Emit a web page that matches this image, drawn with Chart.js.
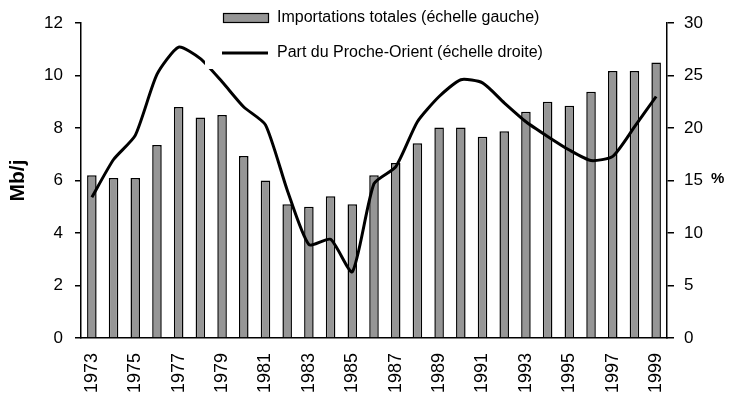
<!DOCTYPE html>
<html>
<head>
<meta charset="utf-8">
<script src="https://cdn.jsdelivr.net/npm/chart.js@4"></script>
<style>
  body { margin: 0; background: #fff; }
  #wrap { width: 730px; height: 405px; }
</style>
</head>
<body>
<div id="wrap"><canvas id="myChart" width="730" height="405"></canvas></div>
<script>
// annees 1973 - 1999
const years = ['1973', '1974', '1975', '1976', '1977', '1978', '1979', '1980', '1981', '1982',
    '1983', '1984', '1985', '1986', '1987', '1988', '1989', '1990', '1991', '1992',
    '1993', '1994', '1995', '1996', '1997', '1998', '1999'];

// importations totales, Mb/j (echelle gauche)
const imports = [6.2, 6.1, 6.1, 7.35, 8.8, 8.4, 8.5, 6.93, 6.0, 5.1,
    5.0, 5.4, 5.1, 6.2, 6.67, 7.42, 8.02, 8.02, 7.67, 7.88,
    8.62, 9.0, 8.85, 9.38, 10.17, 10.17, 10.5];

// part du Proche-Orient, % (echelle droite)
const shareME = [13.4, 17.0, 19.3, 25.1, 27.7, 26.6, 24.4, 22.0, 20.3, 14.1,
    8.9, 9.4, 6.3, 14.7, 16.3, 20.6, 23.0, 24.6, 24.3, 22.4,
    20.6, 19.2, 17.9, 16.9, 17.3, 20.1, 23.0];

const leftTicks = [0, 2, 4, 6, 8, 10, 12];
const rightTicks = [0, 5, 10, 15, 20, 25, 30];

const seriesLabels = ['Importations totales (échelle gauche)', 'Part du Proche-Orient (échelle droite)'];

const FONT = 'Liberation Sans, Arial, sans-serif';

// legende dessinee par dessus la zone du graphique, fond blanc
const legendPlugin = {
    id: 'boxLegend',
    afterDatasetsDraw(chart) {
        const c = chart.ctx;
        c.save();
        c.fillStyle = '#fff';
        c.fillRect(205, 2, 355, 67);
        // barre
        c.fillStyle = '#969696';
        c.strokeStyle = '#000';
        c.lineWidth = 1.2;
        c.fillRect(223.5, 13.5, 45, 9);
        c.strokeRect(223.5, 13.5, 45, 9);
        // ligne
        c.lineWidth = 3;
        c.beginPath();
        c.moveTo(222, 53);
        c.lineTo(268, 53);
        c.stroke();
        c.fillStyle = '#000';
        c.font = '16px ' + FONT;
        c.textBaseline = 'middle';
        c.fillText(seriesLabels[0], 277, 18);
        c.fillText(seriesLabels[1], 277, 53);
        // titre axe droit
        c.font = 'bold 15px ' + FONT;
        c.fillText('%', 711, 179);
        c.restore();
    }
};

const ctx = document.getElementById('myChart').getContext('2d');

let myChart = new Chart(ctx, {
    type: 'bar',
    data: {
        labels: years,
        datasets: [
            {
                type: 'line',
                label: seriesLabels[1],
                data: shareME,
                yAxisID: 'y1',
                borderColor: '#000',
                borderWidth: 3,
                pointRadius: 0,
                tension: 0.2,
                fill: false,
                order: 1
            },
            {
                label: seriesLabels[0],
                data: imports,
                yAxisID: 'y',
                backgroundColor: '#969696',
                borderColor: '#000',
                borderWidth: 1.5,
                barPercentage: 0.44,
                categoryPercentage: 1,
                order: 2
            }
        ]
    },
    options: {
        responsive: false,
        animation: false,
        layout: { padding: { top: 23, left: 0, right: 0, bottom: 0 } },
        plugins: {
            legend: { display: false },
            tooltip: { enabled: false }
        },
        scales: {
            x: {
                grid: { display: false, drawTicks: false },
                border: { color: '#000', width: 1.5 },
                ticks: {
                    color: '#000',
                    font: { family: FONT, size: 18 },
                    minRotation: 90,
                    maxRotation: 90,
                    autoSkip: false,
                    padding: 15,
                    callback: (v, i) => (i % 2 === 0 ? years[i] : '')
                },
                afterFit: s => { s.height = 67; }
            },
            y: {
                position: 'left',
                min: 0,
                max: 12,
                afterBuildTicks: s => { s.ticks = leftTicks.map(v => ({ value: v })); },
                grid: { drawOnChartArea: false, drawTicks: true, tickLength: 6, color: '#000', lineWidth: 1.5 },
                border: { color: '#000', width: 1.5 },
                ticks: { color: '#000', font: { family: FONT, size: 17 }, padding: 12 },
                title: {
                    display: true,
                    text: 'Mb/j',
                    color: '#000',
                    font: { family: FONT, size: 21, weight: 'bold' },
                    padding: { top: 6, bottom: 0 }
                },
                afterFit: s => { s.width = 81; }
            },
            y1: {
                position: 'right',
                min: 0,
                max: 30,
                afterBuildTicks: s => { s.ticks = rightTicks.map(v => ({ value: v })); },
                grid: { drawOnChartArea: false, drawTicks: true, tickLength: 7, color: '#000', lineWidth: 1.5 },
                border: { color: '#000', width: 1.5 },
                ticks: { color: '#000', font: { family: FONT, size: 17 }, padding: 10 },
                afterFit: s => { s.width = 63; }
            }
        }
    },
    plugins: [legendPlugin]
});
</script>
</body>
</html>
